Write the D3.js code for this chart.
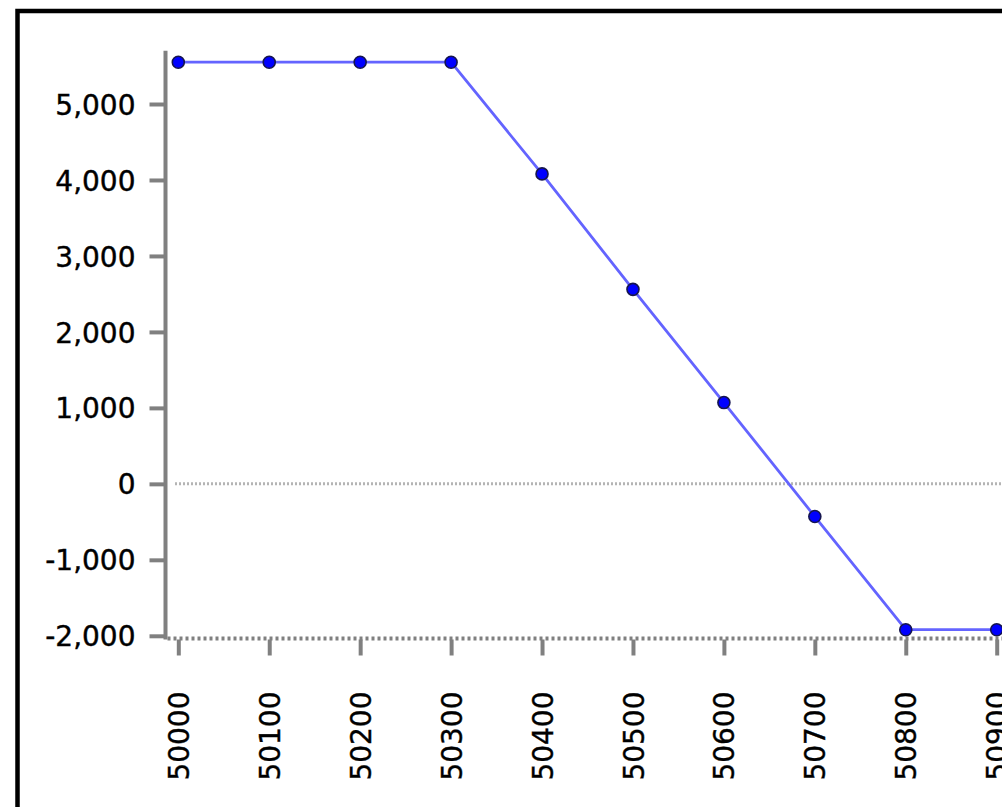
<!DOCTYPE html>
<html>
<head>
<meta charset="utf-8">
<script src="https://cdn.jsdelivr.net/npm/d3@7"></script>
<style>
  html, body { margin: 0; padding: 0; background: #fff; overflow: hidden; }
  svg { display: block; }
  text { font-family: "DejaVu Sans", Verdana, sans-serif; fill: #000; }
</style>
</head>
<body>
<svg id="chart" width="1002" height="807"></svg>
<script>
const strikes = [50000, 50100, 50200, 50300, 50400, 50500, 50600, 50700, 50800, 50900];
const payoff  = [5550, 5550, 5550, 5550, 4080, 2560, 1070, -430, -1920, -1920];
const yTickValues = [-2000, -1000, 0, 1000, 2000, 3000, 4000, 5000];

const svg = d3.select("#chart");
const locale = d3.formatLocale({ decimal: ".", thousands: ",", grouping: [3], currency: ["", ""], minus: "-" });

// outer frame (continues past the right/bottom edges)
svg.append("rect")
  .attr("x", 17.5).attr("y", 11)
  .attr("width", 1100).attr("height", 900)
  .attr("fill", "#fff").attr("stroke", "#000").attr("stroke-width", 4.5);

const x = d3.scaleLinear().domain([50000, 50900]).range([178.3, 996.7]);
const y = d3.scaleLinear().domain([-2000, 5000]).range([635.8, 104]);

const axisColor = "#808080";
const yAxisX = 165.5;
const xAxisY = 638.5;

// zero reference line (dotted light grey)
svg.append("line")
  .attr("x1", 175).attr("x2", 1002)
  .attr("y1", y(0)).attr("y2", y(0))
  .attr("stroke", "#b4b4b4").attr("stroke-width", 3)
  .attr("stroke-dasharray", "2,2");

// x axis line (dotted)
svg.append("line")
  .attr("x1", yAxisX + 2).attr("x2", 1002)
  .attr("y1", xAxisY).attr("y2", xAxisY)
  .attr("stroke", axisColor).attr("stroke-width", 4)
  .attr("stroke-dasharray", "3,3");

// y axis line
svg.append("line")
  .attr("x1", yAxisX).attr("x2", yAxisX)
  .attr("y1", y(5700)).attr("y2", xAxisY + 1)
  .attr("stroke", axisColor).attr("stroke-width", 4);

// y axis via d3.axisLeft
const yAxis = d3.axisLeft(y)
  .tickValues(yTickValues)
  .tickSize(16)
  .tickPadding(14)
  .tickFormat(locale.format(","));
const gy = svg.append("g").attr("transform", `translate(${yAxisX},0)`).call(yAxis);
gy.select(".domain").remove();
gy.selectAll(".tick line").attr("stroke", axisColor).attr("stroke-width", 4);
gy.selectAll(".tick text")
  .attr("font-size", 28)
  .attr("dy", "0.36em")
  .style("font-family", "'DejaVu Sans', Verdana, sans-serif")
  .attr("fill", "#000")
  .attr("stroke", "#000").attr("stroke-width", 0.4);

// x axis via d3.axisBottom
const xAxis = d3.axisBottom(x)
  .tickValues(strikes)
  .tickSize(16)
  .tickFormat(locale.format("d"));
const gx = svg.append("g").attr("transform", `translate(0,${xAxisY + 1})`).call(xAxis);
gx.select(".domain").remove();
gx.selectAll(".tick line").attr("stroke", axisColor).attr("stroke-width", 4);
gx.selectAll(".tick text")
  .attr("font-size", 28)
  .attr("transform", "translate(0,52) rotate(-90)")
  .attr("text-anchor", "end")
  .attr("x", 0).attr("y", 0)
  .attr("dy", "0.36em")
  .style("font-family", "'DejaVu Sans', Verdana, sans-serif")
  .attr("fill", "#000")
  .attr("stroke", "#000").attr("stroke-width", 0.4);

// payoff line
const pts = strikes.map((s, i) => ({ s, v: payoff[i] }));
svg.append("path")
  .datum(pts)
  .attr("fill", "none")
  .attr("stroke", "#6464ff")
  .attr("stroke-width", 2.8)
  .attr("d", d3.line().x(d => x(d.s)).y(d => y(d.v)));

// markers
svg.append("g").selectAll("circle")
  .data(pts)
  .join("circle")
  .attr("cx", d => x(d.s))
  .attr("cy", d => y(d.v))
  .attr("r", 6)
  .attr("fill", "#0000ff")
  .attr("stroke", "#15154f")
  .attr("stroke-width", 1.6);
</script>
</body>
</html>
